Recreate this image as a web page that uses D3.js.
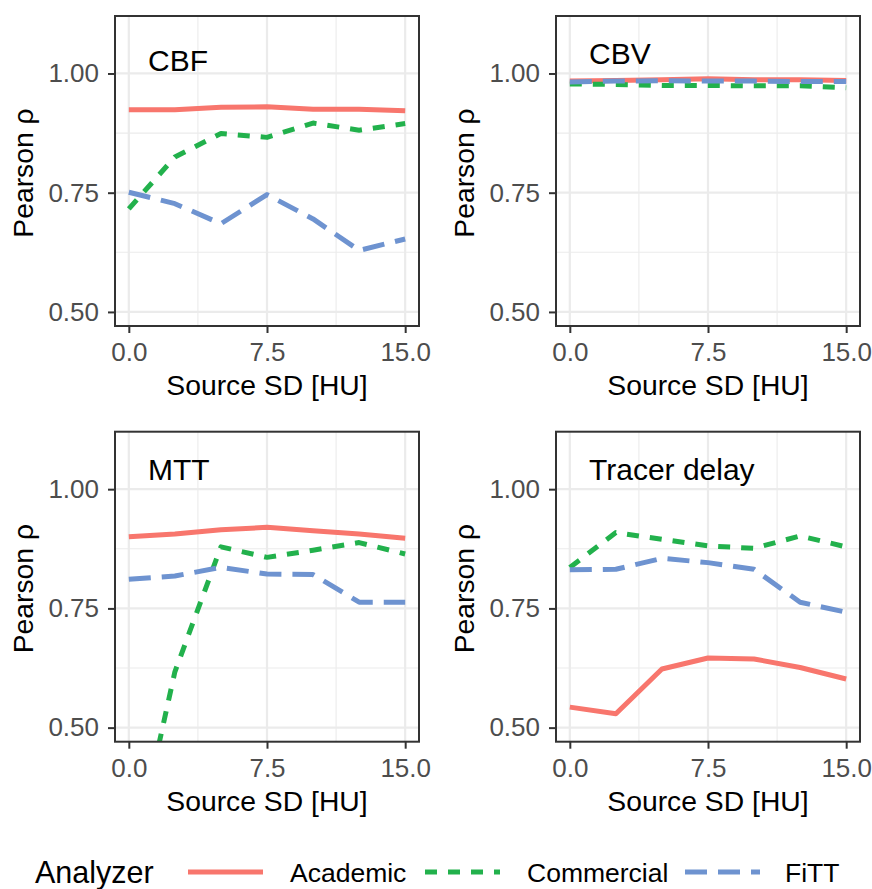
<!DOCTYPE html>
<html lang="en">
<head>
    <meta charset="UTF-8">
    <title>Pearson correlation vs source SD</title>
    <script src="https://cdnjs.cloudflare.com/ajax/libs/d3/7.8.5/d3.min.js"></script>
    <style>
        body {
            margin: 0;
            background: white;
            font-family: 'Liberation Sans', Arial, sans-serif;
        }
        .tick text {
            fill: #4d4d4d;
            font-size: 26px;
            font-family: 'Liberation Sans', Arial, sans-serif;
        }
        .tick line {
            stroke: #333333;
            stroke-width: 2;
        }
        .grid-major {
            stroke: #ebebeb;
            stroke-width: 2.2;
        }
        .grid-minor {
            stroke: #ebebeb;
            stroke-width: 1.1;
        }
        .axis-title {
            font-size: 28.3px;
            fill: black;
        }
        .panel-label {
            font-size: 30px;
            fill: black;
        }
    </style>
</head>
<body>
    <div id="chart"></div>

    <script>
        // x values (Source SD in HU)
        const sourceSD = [0, 2.5, 5, 7.5, 10, 12.5, 15];
        const panelNames = ["CBF", "CBV", "MTT", "Tracer delay"];
        const analyzers = ["Academic", "Commercial", "FiTT"];
        const xTicks = [0, 7.5, 15];
        const xMinor = [3.75, 11.25];
        const yTicks = [0.5, 0.75, 1.0];
        const yMinor = [0.625, 0.875];

        // Pearson rho per panel and analyzer
        const cbfAcademic   = [0.924, 0.924, 0.929, 0.930, 0.925, 0.925, 0.922];
        const cbfCommercial = [0.716, 0.825, 0.874, 0.866, 0.896, 0.881, 0.895];
        const cbfFitt       = [0.751, 0.727, 0.685, 0.746, 0.695, 0.629, 0.653];

        const cbvAcademic   = [0.984, 0.985, 0.987, 0.989, 0.987, 0.987, 0.985];
        const cbvCommercial = [0.978, 0.977, 0.975, 0.975, 0.974, 0.974, 0.970];
        const cbvFitt       = [0.982, 0.984, 0.985, 0.984, 0.984, 0.983, 0.983];

        const mttAcademic   = [0.900, 0.906, 0.915, 0.920, 0.913, 0.906, 0.897];
        const mttCommercial = [0.180, 0.617, 0.879, 0.857, 0.872, 0.888, 0.864];
        const mttFitt       = [0.811, 0.818, 0.836, 0.822, 0.821, 0.763, 0.763];

        const tdAcademic    = [0.543, 0.529, 0.623, 0.646, 0.644, 0.626, 0.602];
        const tdCommercial  = [0.836, 0.909, 0.895, 0.881, 0.876, 0.902, 0.879];
        const tdFitt        = [0.831, 0.832, 0.855, 0.846, 0.832, 0.763, 0.742];

        const panelSeries = [
            [cbfAcademic, cbfCommercial, cbfFitt],
            [cbvAcademic, cbvCommercial, cbvFitt],
            [mttAcademic, mttCommercial, mttFitt],
            [tdAcademic, tdCommercial, tdFitt]
        ];

        // styles per analyzer
        const colors = ["#F8766D", "#22B14C", "#6E93D0"];
        const dashes = [null, "12,11", "22,11"];

        // layout
        const W = 872, H = 889;
        const panelW = 304, panelH = 310;
        const panelPos = [
            { x: 115, y: 16 },
            { x: 556, y: 16 },
            { x: 115, y: 431.7 },
            { x: 556, y: 431.7 }
        ];
        const labelOffset = [54.7, 48, 48.3, 48.3];

        const svg = d3.select("#chart")
            .append("svg")
            .attr("width", W)
            .attr("height", H);

        const xScale = d3.scaleLinear()
            .domain([-0.75, 15.75])
            .range([0, panelW]);

        const yScale = d3.scaleLinear()
            .domain([0.4705, 1.1205])
            .range([panelH, 0]);

        const line = d3.line()
            .x((d, i) => xScale(sourceSD[i]))
            .y(d => yScale(d));

        panelNames.forEach((name, p) => {
            const pos = panelPos[p];
            const g = svg.append("g")
                .attr("transform", `translate(${pos.x},${pos.y})`);

            // minor grid
            g.selectAll(".gx-minor").data(xMinor).enter().append("line")
                .attr("class", "grid-minor")
                .attr("x1", d => xScale(d)).attr("x2", d => xScale(d))
                .attr("y1", 0).attr("y2", panelH);
            g.selectAll(".gy-minor").data(yMinor).enter().append("line")
                .attr("class", "grid-minor")
                .attr("x1", 0).attr("x2", panelW)
                .attr("y1", d => yScale(d)).attr("y2", d => yScale(d));

            // major grid
            g.selectAll(".gx-major").data(xTicks).enter().append("line")
                .attr("class", "grid-major")
                .attr("x1", d => xScale(d)).attr("x2", d => xScale(d))
                .attr("y1", 0).attr("y2", panelH);
            g.selectAll(".gy-major").data(yTicks).enter().append("line")
                .attr("class", "grid-major")
                .attr("x1", 0).attr("x2", panelW)
                .attr("y1", d => yScale(d)).attr("y2", d => yScale(d));

            // clip so lines stay in the panel
            const clipId = "clip" + p;
            g.append("clipPath").attr("id", clipId)
                .append("rect")
                .attr("width", panelW)
                .attr("height", panelH);

            const lines = g.append("g").attr("clip-path", `url(#${clipId})`);
            panelSeries[p].forEach((vals, s) => {
                lines.append("path")
                    .datum(vals)
                    .attr("d", line)
                    .attr("fill", "none")
                    .attr("stroke", colors[s])
                    .attr("stroke-width", 5)
                    .attr("stroke-linejoin", "round")
                    .attr("stroke-dasharray", dashes[s]);
            });

            // panel label
            g.append("text")
                .attr("class", "panel-label")
                .attr("x", 33)
                .attr("y", labelOffset[p])
                .text(name);

            // border
            g.append("rect")
                .attr("width", panelW)
                .attr("height", panelH)
                .attr("fill", "none")
                .attr("stroke", "#333333")
                .attr("stroke-width", 2);

            // axes
            const xAxis = g.append("g")
                .attr("transform", `translate(0,${panelH})`)
                .call(d3.axisBottom(xScale)
                    .tickValues(xTicks)
                    .tickFormat(d3.format(".1f"))
                    .tickSize(7)
                    .tickPadding(10)
                    .tickSizeOuter(0));
            xAxis.select(".domain").remove();

            const yAxis = g.append("g")
                .call(d3.axisLeft(yScale)
                    .tickValues(yTicks)
                    .tickFormat(d3.format(".2f"))
                    .tickSize(7)
                    .tickPadding(9)
                    .tickSizeOuter(0));
            yAxis.select(".domain").remove();

            // axis titles
            g.append("text")
                .attr("class", "axis-title")
                .attr("x", panelW / 2)
                .attr("y", panelH + 69)
                .attr("text-anchor", "middle")
                .text("Source SD [HU]");

            g.append("text")
                .attr("class", "axis-title")
                .attr("transform", `translate(-82,${panelH / 2 + 2}) rotate(-90)`)
                .attr("text-anchor", "middle")
                .text("Pearson ρ");
        });

        // legend
        const legend = svg.append("g");
        legend.append("text")
            .attr("x", 35)
            .attr("y", 883)
            .style("font-size", "30.5px")
            .text("Analyzer");

        const keyX = [188, 425, 685];
        const labelX = [290, 527, 785];
        analyzers.forEach((a, i) => {
            legend.append("line")
                .attr("x1", keyX[i])
                .attr("x2", keyX[i] + 75)
                .attr("y1", 872)
                .attr("y2", 872)
                .attr("stroke", colors[i])
                .attr("stroke-width", 5)
                .attr("stroke-dasharray", dashes[i]);
            legend.append("text")
                .attr("x", labelX[i])
                .attr("y", 882)
                .style("font-size", "26.5px")
                .text(a);
        });
    </script>
</body>
</html>
